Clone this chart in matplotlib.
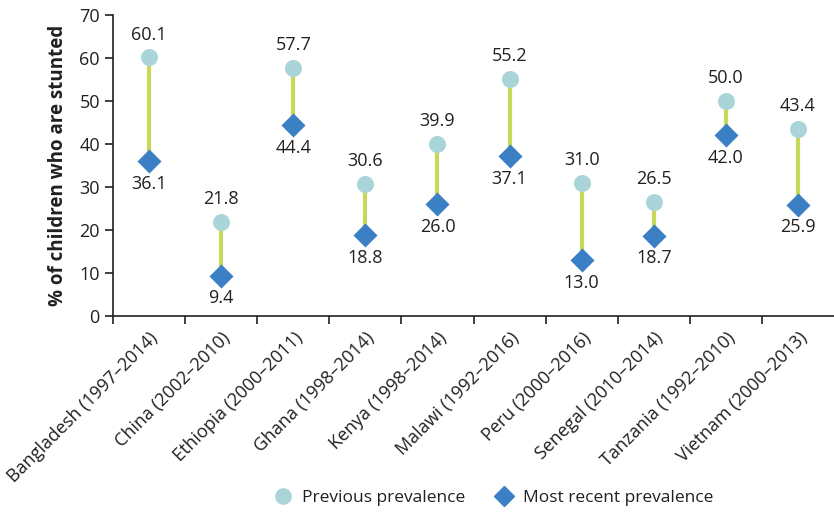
import matplotlib
matplotlib.use("Agg")
import matplotlib.pyplot as plt
from matplotlib.lines import Line2D

countries = ["Bangladesh (1997\u20132014)", "China (2002\u20132010)", "Ethiopia (2000\u20132011)",
             "Ghana (1998\u20132014)", "Kenya (1998\u20132014)", "Malawi (1992\u20132016)",
             "Peru (2000\u20132016)", "Senegal (2010\u20132014)", "Tanzania (1992\u20132010)",
             "Vietnam (2000\u20132013)"]
previous = [60.1, 21.8, 57.7, 30.6, 39.9, 55.2, 31.0, 26.5, 50.0, 43.4]
recent = [36.1, 9.4, 44.4, 18.8, 26.0, 37.1, 13.0, 18.7, 42.0, 25.9]

plt.rcParams['font.family'] = ['Open Sans', 'DejaVu Sans']

c_prev = "#a9d5d9"
c_recent = "#3b80c4"
c_line = "#c9d75b"
c_text = "#231f20"

fig = plt.figure(figsize=(8.34, 5.13), dpi=100)
ax = fig.add_axes([0.1355, 0.384, 0.8645, 0.587])

x = list(range(len(countries)))
ax.vlines(x, recent, previous, color=c_line, lw=3, zorder=1)
ax.scatter(x, previous, s=150, color=c_prev, marker="o", zorder=2, linewidths=0)
ax.scatter(x, recent, s=150, color=c_recent, marker="D", zorder=3, linewidths=0)

for i in x:
    ax.annotate("{:.1f}".format(previous[i]), (i, previous[i]), xytext=(0, 10),
                textcoords="offset points", ha="center", va="bottom", fontsize=13, color=c_text)
    ax.annotate("{:.1f}".format(recent[i]), (i, recent[i]), xytext=(0, -10),
                textcoords="offset points", ha="center", va="top", fontsize=13, color=c_text)

ax.set_xlim(-0.5, len(countries) - 0.5)
ax.set_ylim(0, 70)
ax.set_yticks(range(0, 71, 10))
ax.tick_params(axis="y", labelsize=13, colors=c_text, length=6, width=1.2)
ax.set_xticks(x)
ax.set_xticklabels(countries, rotation=45, ha="right", rotation_mode="anchor", fontsize=13, color=c_text)
ax.tick_params(axis="x", which="major", length=0, pad=9)
ax.set_xticks([i + 0.5 for i in range(-1, len(countries) - 1)], minor=True)
ax.tick_params(axis="x", which="minor", length=6, width=1.2, color=c_text)

for s in ["top", "right"]:
    ax.spines[s].set_visible(False)
for s in ["left", "bottom"]:
    ax.spines[s].set_linewidth(1.2)
    ax.spines[s].set_color(c_text)

ax.set_ylabel("% of children who are stunted", fontsize=13.5, fontweight="bold", color=c_text, labelpad=8)

handles = [Line2D([], [], marker="o", ls="", color=c_prev, markersize=11, label="Previous prevalence"),
           Line2D([], [], marker="D", ls="", color=c_recent, markersize=10, label="Most recent prevalence")]
fig.legend(handles=handles, loc="center", bbox_to_anchor=(0.587, 0.029), ncol=2, frameon=False,
           fontsize=12.5, handletextpad=0.1, columnspacing=1.2, labelcolor=c_text)

fig.savefig("out.png", dpi=100)
